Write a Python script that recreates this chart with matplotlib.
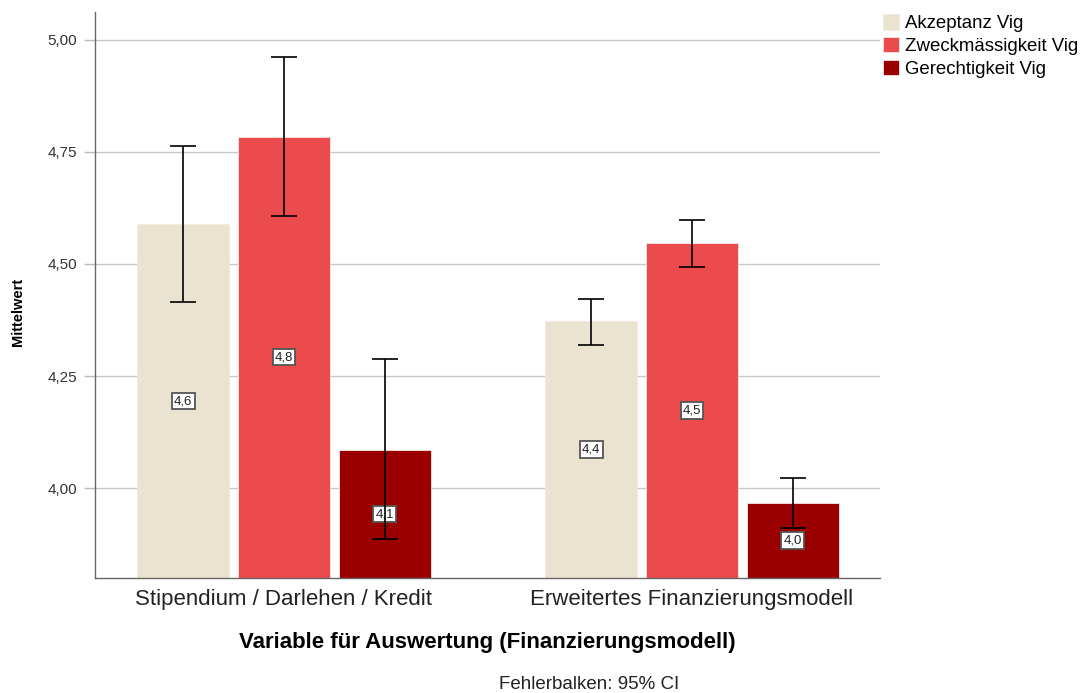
import matplotlib
matplotlib.use("Agg")
import matplotlib.pyplot as plt
import numpy as np

plt.rcParams['font.family'] = ['Liberation Sans', 'DejaVu Sans']

categories = ["Stipendium / Darlehen / Kredit", "Erweitertes Finanzierungsmodell"]
series = ["Akzeptanz Vig", "Zweckmässigkeit Vig", "Gerechtigkeit Vig"]
means = {
    "Akzeptanz Vig": [4.588, 4.372],
    "Zweckmässigkeit Vig": [4.784, 4.546],
    "Gerechtigkeit Vig": [4.085, 3.967],
}
ci_low = {
    "Akzeptanz Vig": [4.414, 4.320],
    "Zweckmässigkeit Vig": [4.606, 4.493],
    "Gerechtigkeit Vig": [3.886, 3.912],
}
ci_high = {
    "Akzeptanz Vig": [4.763, 4.421],
    "Zweckmässigkeit Vig": [4.962, 4.599],
    "Gerechtigkeit Vig": [4.287, 4.022],
}
colors = ["#E9E3D0", "#EC4B4E", "#9A0000"]
yticks = [4.00, 4.25, 4.50, 4.75, 5.00]

fig = plt.figure(figsize=(10.85, 6.93), dpi=100)
ax = fig.add_axes([0.0876, 0.166, 0.7235, 0.817])
ymin, ymax = 3.80, 5.062
ax.set_ylim(ymin, ymax)
ax.set_xlim(-0.463, 1.461)

x = np.arange(len(categories))
offset = 0.247
width = 0.226
handles = []
for i, s in enumerate(series):
    xs = x + (i - 1) * offset
    m = np.array(means[s])
    b = ax.bar(xs, m - ymin, bottom=ymin, width=width, color=colors[i],
               edgecolor="#f3e8e0", linewidth=0.6, zorder=2, label=s)
    handles.append(b)
    lo = m - np.array(ci_low[s])
    hi = np.array(ci_high[s]) - m
    ax.errorbar(xs, m, yerr=[lo, hi], fmt="none", ecolor="black",
                elinewidth=1.2, capsize=9.5, capthick=1.2, zorder=5)
    for xi, mi in zip(xs, m):
        ax.text(xi, (mi + ymin) / 2, f"{mi:.1f}".replace(".", ","),
                ha="center", va="center", fontsize=9.5, color="#222222", zorder=4,
                bbox=dict(boxstyle="square,pad=0.17", facecolor="white",
                          edgecolor="#555555", linewidth=1.3))

ax.set_yticks(yticks)
ax.set_yticklabels([f"{t:.2f}".replace(".", ",") for t in yticks], fontsize=11, color="#333333")
ax.yaxis.grid(True, color="#c8c8c8", linewidth=1.0, zorder=0)
ax.set_axisbelow(True)
ax.tick_params(axis="y", length=8, color="#bbbbbb", width=1.0, pad=5)
ax.tick_params(axis="x", length=0, pad=8)
ax.set_xticks(x)
ax.set_xticklabels(categories, fontsize=16, color="#222222")
for sp in ["top", "right"]:
    ax.spines[sp].set_visible(False)
for sp in ["left", "bottom"]:
    ax.spines[sp].set_color("#666666")
    ax.spines[sp].set_linewidth(1.0)

ax.set_ylabel("Mittelwert", fontsize=10.5, fontweight="bold")
ax.yaxis.set_label_coords(-0.089, 0.47)
ax.set_xlabel("Variable für Auswertung (Finanzierungsmodell)", fontsize=16,
              fontweight="bold", labelpad=16)

fig.text(0.543, 0.012, "Fehlerbalken: 95% CI", fontsize=13.5, ha="center", va="center",
         color="#222222")

fig.legend(handles=handles, labels=series, loc="upper left",
           bbox_to_anchor=(0.810, 0.985), frameon=False, fontsize=13.4,
           handlelength=0.9, handleheight=0.9, handletextpad=0.3, labelspacing=0.25,
           borderaxespad=0, borderpad=0.2)

fig.savefig("out.png", dpi=100)
